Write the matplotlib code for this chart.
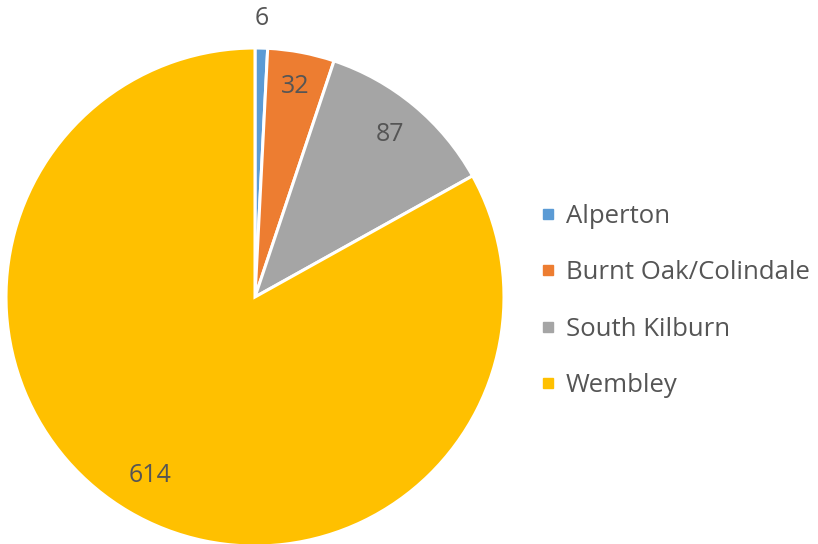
import numpy as np
import matplotlib
matplotlib.use("Agg")
import matplotlib.pyplot as plt
from matplotlib.lines import Line2D

categories = ["Alperton", "Burnt Oak/Colindale", "South Kilburn", "Wembley"]
values = [6, 32, 87, 614]
colors = ["#5B9BD5", "#ED7D31", "#A5A5A5", "#FFC000"]

plt.rcParams["font.family"] = ["Open Sans", "DejaVu Sans"]
text_color = "#555555"

W, H = 818, 544
fig = plt.figure(figsize=(W / 100, H / 100), dpi=100)

cx, cy, r = 255, 297, 249
ax = fig.add_axes([(cx - r) / W, (H - cy - r) / H, 2 * r / W, 2 * r / H])
wedges, _ = ax.pie(values, colors=colors, startangle=90, counterclock=False,
                   radius=1.0, wedgeprops=dict(edgecolor="white", linewidth=2.2))
ax.set_xlim(-1, 1)
ax.set_ylim(-1, 1)
ax.set_aspect("equal")
ax.axis("off")

# label distance per slice (small slice label sits outside)
label_r = [1.12, 0.86, 0.85, 0.83]
for w, v, lr in zip(wedges, values, label_r):
    ang = np.deg2rad((w.theta1 + w.theta2) / 2)
    ax.text(lr * np.cos(ang), lr * np.sin(ang), str(v), ha="center", va="center",
            fontsize=18, color=text_color, clip_on=False)

handles = [Line2D([0], [0], marker="s", linestyle="none", markersize=7,
                  markerfacecolor=c, markeredgecolor=c) for c in colors]
fig.legend(handles, categories, loc="center left",
           bbox_to_anchor=(527.5 / W, (H - 301) / H), frameon=False,
           fontsize=18.5, labelcolor=text_color, handlelength=0.6,
           handletextpad=0.4, labelspacing=1.22, borderpad=0)

fig.savefig("out.png", dpi=100)
